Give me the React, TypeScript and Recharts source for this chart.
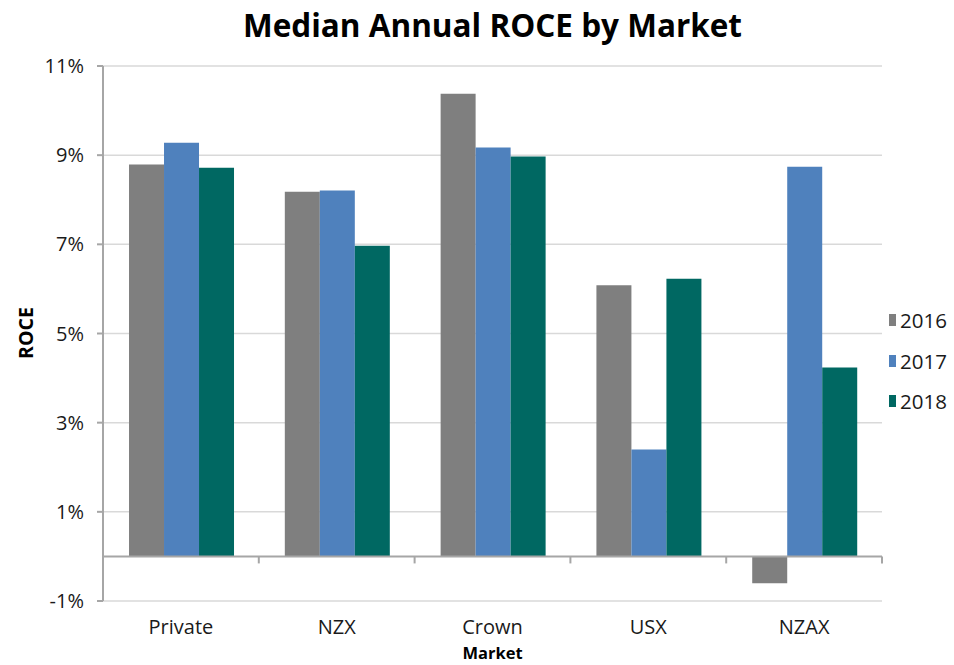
import React from 'react'
import { BarChart, Bar, XAxis, YAxis, CartesianGrid, Legend, ReferenceLine } from 'recharts'

const markets = ['Private', 'NZX', 'Crown', 'USX', 'NZAX']
const roce2016 = [8.79, 8.18, 10.38, 6.08, -0.6]
const roce2017 = [9.28, 8.21, 9.17, 2.4, 8.74]
const roce2018 = [8.72, 6.97, 8.97, 6.23, 4.24]
const yTicks = [-1, 1, 3, 5, 7, 9, 11]

const series = [
  { key: 'y2016', name: '2016', color: '#7F7F7F' },
  { key: 'y2017', name: '2017', color: '#4F81BD' },
  { key: 'y2018', name: '2018', color: '#006862' },
]

const data = markets.map((market, i) => ({
  market,
  y2016: roce2016[i],
  y2017: roce2017[i],
  y2018: roce2018[i],
}))

const W = 954
const H = 665
const FONT = '"Open Sans", "DejaVu Sans", sans-serif'
const PLOT_LEFT = 103
const PLOT_RIGHT = 882
const PLOT_TOP = 66
const PLOT_BOTTOM = 601
const BAND = (PLOT_RIGHT - PLOT_LEFT) / markets.length
const ZERO_Y = PLOT_TOP + ((PLOT_BOTTOM - PLOT_TOP) * 11) / 12

const MarketTick = (props: any) => {
  const { x, y, payload } = props
  return (
    <g>
      <line x1={x + BAND / 2} x2={x + BAND / 2} y1={ZERO_Y} y2={ZERO_Y + 7} stroke="#A6A6A6" strokeWidth={2} />
      <text x={x} y={y + 33} textAnchor="middle" fontSize={20} fill="#1a1a1a" fontFamily={FONT}>
        {payload.value}
      </text>
    </g>
  )
}

const renderLegend = () => (
  <div style={{ fontFamily: FONT }}>
    {series.map((s) => (
      <div key={s.key} style={{ display: 'flex', alignItems: 'center', height: 40.5, paddingLeft: 7 }}>
        <span style={{ width: 12, height: 12, background: s.color, display: 'inline-block', marginRight: 4 }} />
        <span style={{ fontSize: 20.5, color: '#1a1a1a' }}>{s.name}</span>
      </div>
    ))}
  </div>
)

export default function App() {
  return (
    <div style={{ position: 'relative', width: W, height: H, background: '#fff' }}>
      <style>{'body{margin:0}'}</style>
      <BarChart
        width={W}
        height={H}
        data={data}
        margin={{ top: PLOT_TOP, right: 7, left: 0, bottom: 0 }}
        barCategoryGap="16.7%"
        barGap={0}
      >
        <CartesianGrid vertical={false} stroke="#D9D9D9" strokeWidth={1.5} />
        <XAxis
          dataKey="market"
          height={H - PLOT_BOTTOM}
          axisLine={false}
          tickLine={false}
          tickSize={0}
          tickMargin={0}
          tick={<MarketTick />}
          interval={0}
        />
        <YAxis
          width={PLOT_LEFT}
          domain={[-1, 11]}
          ticks={yTicks}
          allowDataOverflow
          tickFormatter={(v: number) => `${v}%`}
          axisLine={{ stroke: '#A6A6A6', strokeWidth: 2 }}
          tickLine={{ stroke: '#A6A6A6', strokeWidth: 2 }}
          tickSize={6}
          tickMargin={13}
          tick={{ fontSize: 20, fill: '#1a1a1a', fontFamily: FONT }}
        />
        <ReferenceLine y={0} stroke="#A6A6A6" strokeWidth={2} />
        <Legend
          layout="vertical"
          align="right"
          verticalAlign="top"
          wrapperStyle={{ top: 300, width: 65 }}
          content={renderLegend}
        />
        {series.map((s) => (
          <Bar key={s.key} dataKey={s.key} name={s.name} fill={s.color} isAnimationActive={false} />
        ))}
      </BarChart>
      <svg width={W} height={H} style={{ position: 'absolute', left: 0, top: 0, pointerEvents: 'none' }}>
        <text x={(PLOT_LEFT + PLOT_RIGHT) / 2} y={37} textAnchor="middle" fontSize={31.5} fontWeight={700} fontFamily={FONT} fill="#000">
          Median Annual ROCE by Market
        </text>
        <text x={(PLOT_LEFT + PLOT_RIGHT) / 2} y={659} textAnchor="middle" fontSize={16.5} fontWeight={700} fontFamily={FONT} fill="#000">
          Market
        </text>
        <text x={25} y={333} transform="rotate(-90 25 333)" textAnchor="middle" dominantBaseline="central" fontSize={19.5} fontWeight={700} fontFamily={FONT} fill="#000">
          ROCE
        </text>
      </svg>
    </div>
  )
}
